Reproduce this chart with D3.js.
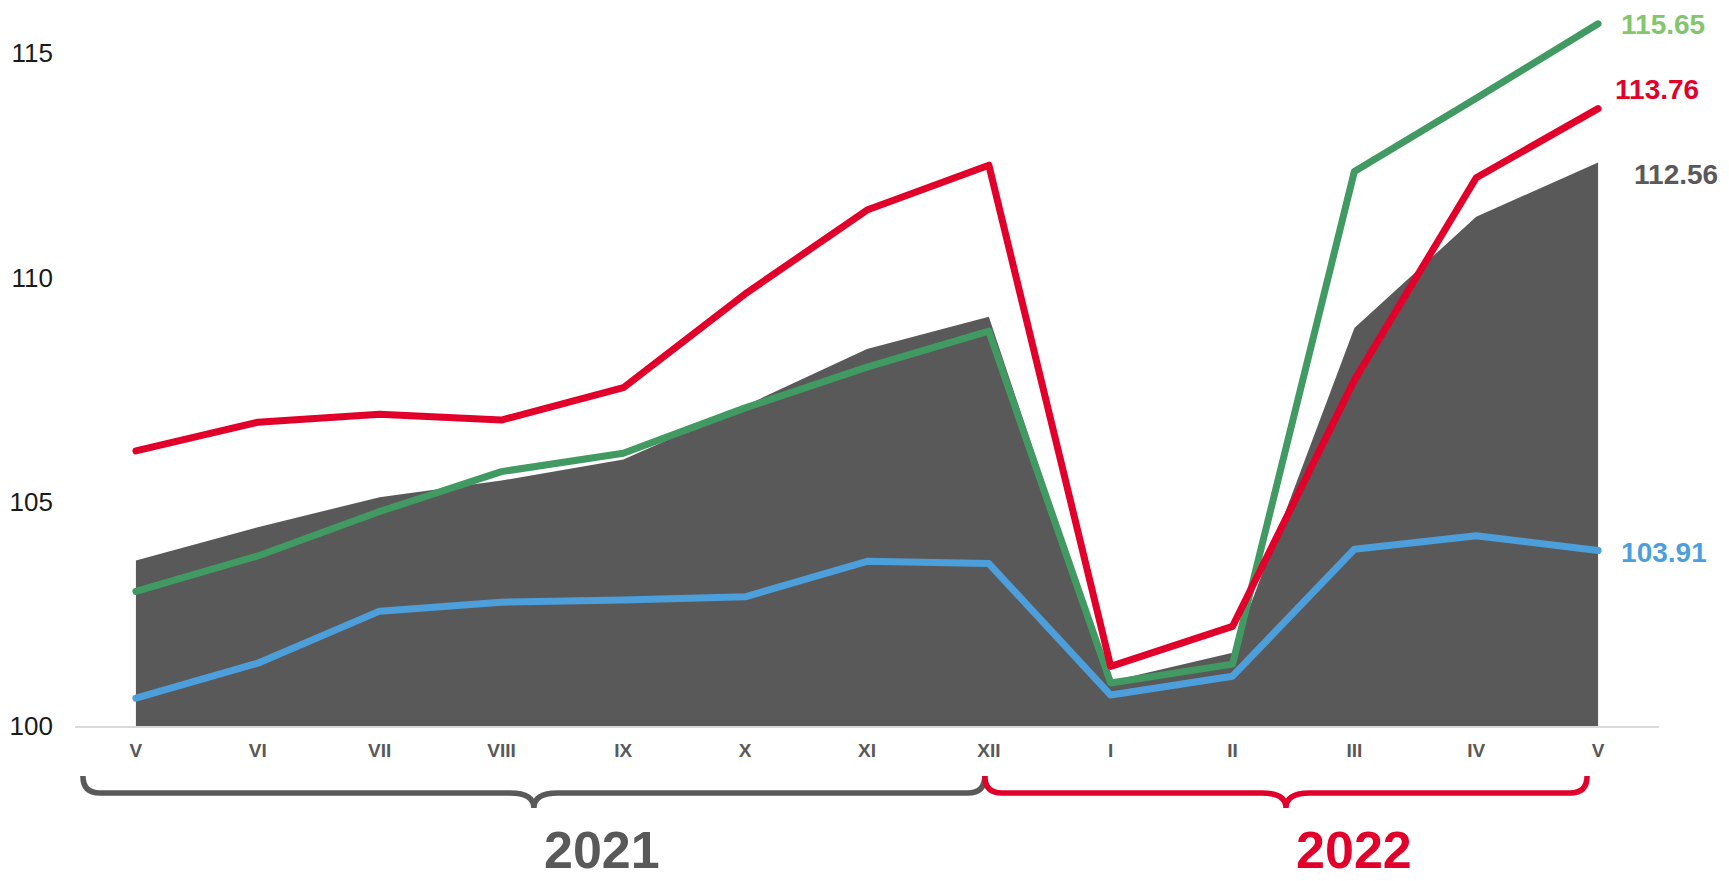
<!DOCTYPE html>
<html>
<head>
<meta charset="utf-8">
<script src="https://cdn.jsdelivr.net/npm/d3@7"></script>
<style>
  body { margin: 0; background: #fff; }
  svg { display: block; }
</style>
</head>
<body>
<div id="chart"></div>
<script>
// Data
var months = ['V','VI','VII','VIII','IX','X','XI','XII','I','II','III','IV','V'];
var yTicks = [100, 105, 110, 115];
var greyArea = [103.69,104.43,105.10,105.47,105.94,107.14,108.40,109.12,101.00,101.63,108.87,111.35,112.56];
var redLine = [106.13,106.77,106.95,106.82,107.54,109.63,111.50,112.50,101.33,102.22,107.71,112.22,113.76];
var greenLine = [103.00,103.79,104.78,105.67,106.08,107.09,108.00,108.80,100.96,101.38,112.36,113.99,115.65];
var blueLine = [100.62,101.40,102.56,102.76,102.81,102.88,103.67,103.62,100.69,101.11,103.94,104.24,103.91];
var endLabels = ['112.56','113.76','115.65','103.91'];
var years = ['2021','2022'];

var w = 1729, h = 881;

var svg = d3.select('#chart').append('svg').attr('width',w).attr('height',h);

// Scales
var x = d3.scaleBand().domain(d3.range(months.length)).range([75,1659]).padding(0);
var cx = function(i){ return x(i) + x.bandwidth()/2; };
var y = d3.scaleLinear().domain([100,115]).range([726,53]);

// y labels
svg.selectAll('.ytick')
  .data(yTicks)
  .enter().append('text')
  .attr('class','ytick')
  .attr('x',53).attr('y',function(d){ return y(d); })
  .attr('dy','0.36em')
  .attr('text-anchor','end')
  .style('font-family','"Liberation Sans", Arial, sans-serif')
  .style('font-size','26px')
  .style('fill','#1a1a1a')
  .text(function(d){ return d; });

// area
var area = d3.area()
  .x(function(d,i){ return cx(i); })
  .y0(y(100))
  .y1(function(d){ return y(d); });

svg.append('path').datum(greyArea)
  .attr('d',area)
  .style('fill','#595959');

// baseline
svg.append('line')
  .attr('x1',x.range()[0]).attr('x2',x.range()[1])
  .attr('y1',y(100)+1).attr('y2',y(100)+1)
  .style('stroke','#d9d9d9').style('stroke-width',2);

// lines
var line = d3.line()
  .x(function(d,i){ return cx(i); })
  .y(function(d){ return y(d); });

var series = [
  {values: blueLine, color: '#4d9fdb'},
  {values: greenLine, color: '#409a62'},
  {values: redLine, color: '#e2002a'}
];

svg.selectAll('.series')
  .data(series)
  .enter().append('path')
  .attr('class','series')
  .attr('d',function(d){ return line(d.values); })
  .style('fill','none')
  .style('stroke',function(d){ return d.color; })
  .style('stroke-width',7)
  .style('stroke-linejoin','round')
  .style('stroke-linecap','round');

// end labels
var labelInfo = [
  {text: endLabels[0], v: greyArea[12], color: '#595959', dx: 36, dy: 11},
  {text: endLabels[1], v: redLine[12], color: '#e2002a', dx: 17, dy: -20},
  {text: endLabels[2], v: greenLine[12], color: '#84c56e', dx: 23, dy: 0},
  {text: endLabels[3], v: blueLine[12], color: '#4d9fdb', dx: 23, dy: 1}
];
svg.selectAll('.endlabel')
  .data(labelInfo)
  .enter().append('text')
  .attr('class','endlabel')
  .attr('x',function(d){ return cx(12) + d.dx; })
  .attr('y',function(d){ return y(d.v) + d.dy; })
  .attr('dy','0.36em')
  .style('font-family','"Liberation Sans", Arial, sans-serif')
  .style('font-weight','bold')
  .style('font-size','28px')
  .style('fill',function(d){ return d.color; })
  .text(function(d){ return d.text; });

// x labels
svg.selectAll('.xtick')
  .data(months)
  .enter().append('text')
  .attr('class','xtick')
  .attr('x',function(d,i){ return cx(i); })
  .attr('y',750)
  .attr('dy','0.36em')
  .attr('text-anchor','middle')
  .style('font-family','"Liberation Sans Narrow", "Arial Narrow", "Liberation Sans", sans-serif')
  .style('font-weight','bold')
  .style('font-size','19px')
  .style('fill','#595959')
  .text(function(d){ return d; });

// braces
function brace(x0, x1, top, mid, tip){
  var r = mid - top, m = (x0 + x1)/2, r2 = tip - mid;
  return 'M' + x0 + ',' + top +
    ' Q' + x0 + ',' + mid + ' ' + (x0 + r) + ',' + mid +
    ' L' + (m - r2*1.6) + ',' + mid +
    ' Q' + m + ',' + mid + ' ' + m + ',' + tip +
    ' Q' + m + ',' + mid + ' ' + (m + r2*1.6) + ',' + mid +
    ' L' + (x1 - r) + ',' + mid +
    ' Q' + x1 + ',' + mid + ' ' + x1 + ',' + top;
}

var groups = [
  {label: years[0], x0: cx(0) - 53, x1: cx(7) - 4, color: '#595959'},
  {label: years[1], x0: cx(7) - 4, x1: cx(12) - 11, color: '#e2002a'}
];

svg.selectAll('.brace')
  .data(groups)
  .enter().append('path')
  .attr('class','brace')
  .attr('d',function(d){ return brace(d.x0, d.x1, 776, 793, 808); })
  .style('fill','none')
  .style('stroke',function(d){ return d.color; })
  .style('stroke-width',5.5)
  .style('stroke-linecap','butt');

svg.selectAll('.year')
  .data(groups)
  .enter().append('text')
  .attr('class','year')
  .attr('x',function(d){ return (d.x0 + d.x1)/2 + 68; })
  .attr('y',868)
  .attr('text-anchor','middle')
  .style('font-family','"Liberation Sans", Arial, sans-serif')
  .style('font-weight','bold')
  .style('font-size','52px')
  .style('fill',function(d){ return d.color; })
  .text(function(d){ return d.label; });
</script>
</body>
</html>
